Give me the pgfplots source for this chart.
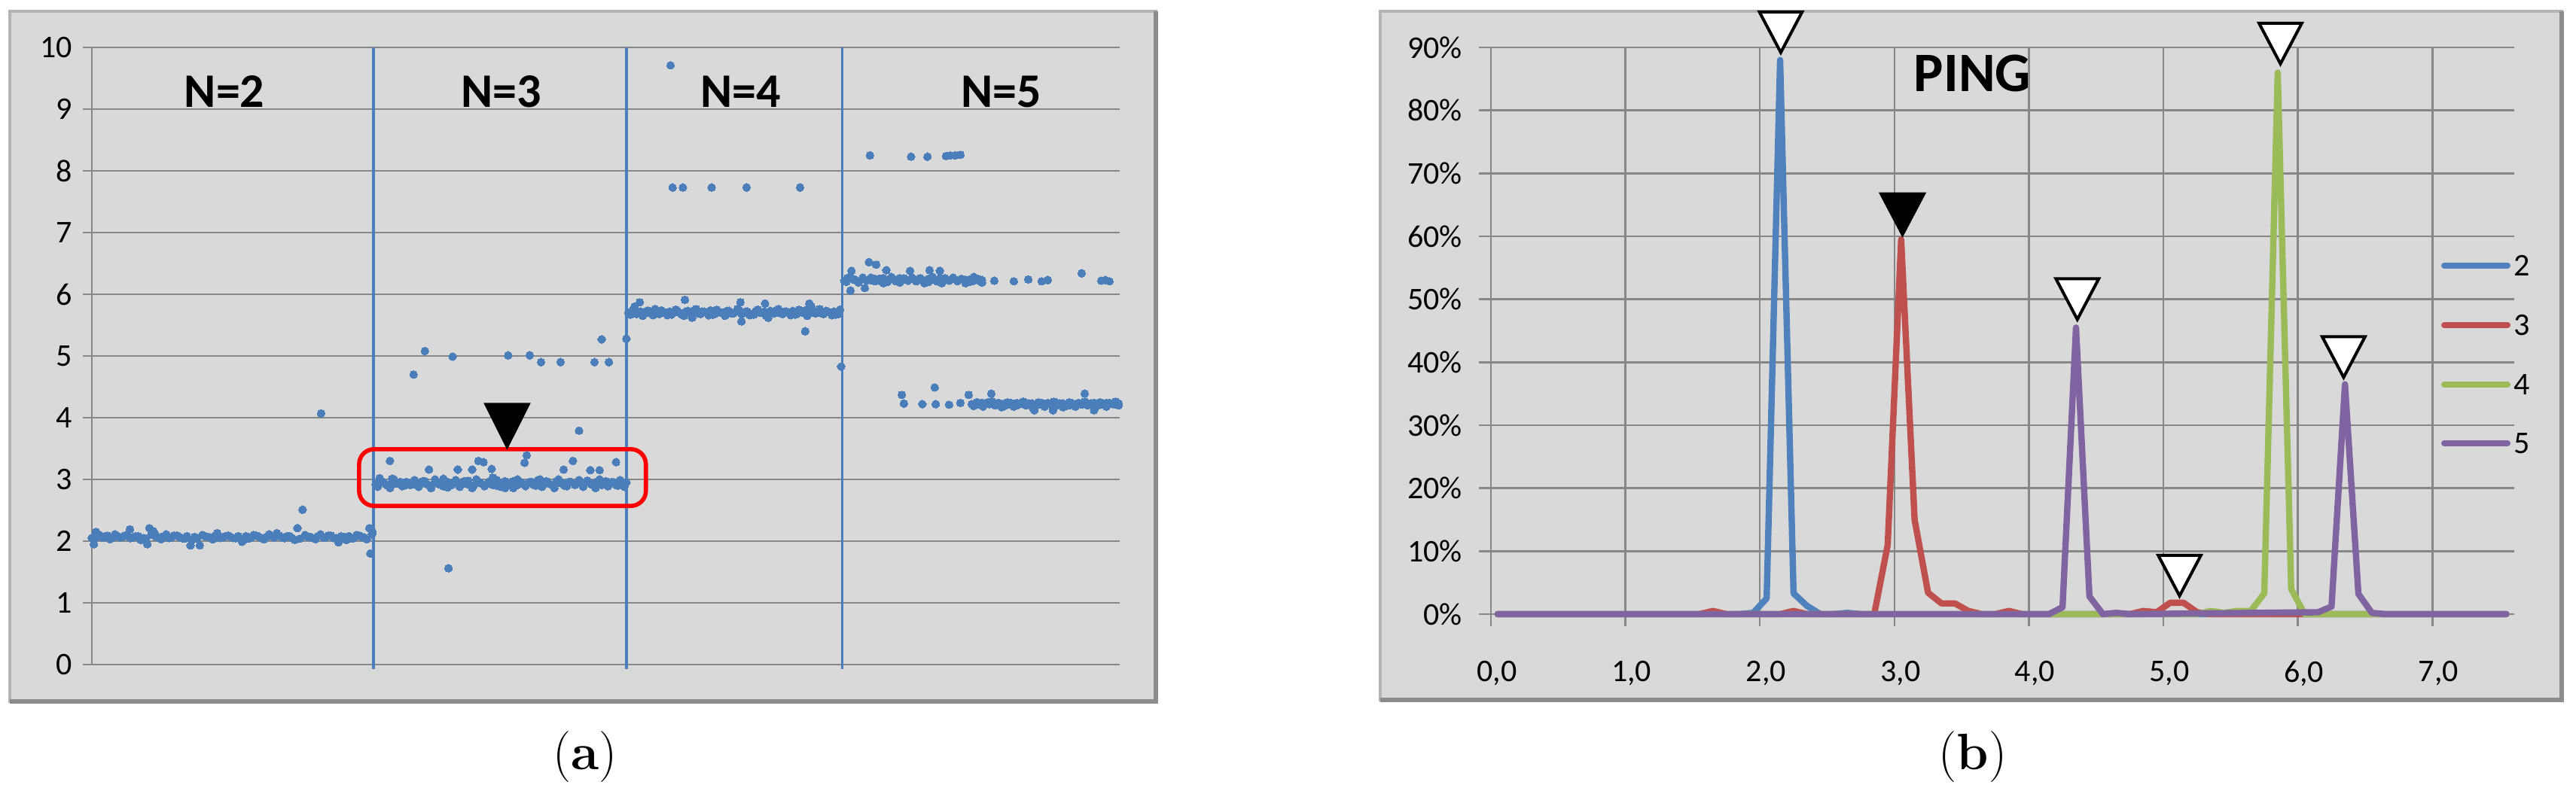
\documentclass[border=0pt]{standalone}
\usepackage{fontspec}
\newfontfamily\chartfont{Carlito}
\usepackage{pgfplots}
\pgfplotsset{compat=1.18}
\usetikzlibrary{plotmarks}

\definecolor{panelbg}{HTML}{D9D9D9}
\definecolor{gridgray}{HTML}{878787}
\definecolor{framelight}{HTML}{B4B4B4}
\definecolor{framedark}{HTML}{8C8C8C}
\definecolor{dotblue}{HTML}{4A7EBB}
\definecolor{cTwo}{HTML}{4F81BD}
\definecolor{cThree}{HTML}{C0504D}
\definecolor{cFour}{HTML}{9BBB59}
\definecolor{cFive}{HTML}{8064A2}

% down-pointing triangle with its tip on the data point
\pgfdeclareplotmark{tridown}{%
  \pgfpathmoveto{\pgfpointorigin}%
  \pgfpathlineto{\pgfpoint{-\pgfplotmarksize}{1.9\pgfplotmarksize}}%
  \pgfpathlineto{\pgfpoint{\pgfplotmarksize}{1.9\pgfplotmarksize}}%
  \pgfpathclose
  \pgfusepathqfillstroke}

\pgfplotsset{
  excel/.style={
    scale only axis, anchor=south west, clip=false,
    axis line style={draw=gridgray, line width=0.6pt, -},
    grid style={draw=gridgray, line width=0.6pt},
    tick style={draw=gridgray, line width=0.6pt},
    tick align=outside,
    tick label style={font=\chartfont\fontsize{10.5}{12}\selectfont, text=black},
    /pgf/number format/assume math mode=true,
  },
  dots/.style={only marks, mark=*, mark size=1.3pt,
    mark options={draw=dotblue, fill=dotblue, line width=0pt}},
  peak/.style={line width=2.1pt, line join=round, line cap=round, mark=none},
}
\newcommand{\nlabel}{\chartfont\bfseries\fontsize{16}{18}\selectfont}

\begin{document}
\begin{tikzpicture}
\useasboundingbox (0,0) rectangle (855.25pt,263.75pt);

%% panel backgrounds
\fill[panelbg] (3.25pt,30.75pt) rectangle (383.75pt,260pt);
\draw[framelight, line width=1.2pt] (3.25pt,30.75pt) rectangle (383.75pt,260pt);
\draw[framedark, line width=1.4pt] (3.25pt,30.75pt) -- (383.75pt,30.75pt) -- (383.75pt,260pt);
\fill[panelbg] (458.25pt,31.25pt) rectangle (850.5pt,260pt);
\draw[framelight, line width=1.2pt] (458.25pt,31.25pt) rectangle (850.5pt,260pt);
\draw[framedark, line width=1.4pt] (458.25pt,31.25pt) -- (850.5pt,31.25pt) -- (850.5pt,260pt);

%% ===== (a) measured values per N =====
\begin{axis}[excel,
  at={(30.5pt,43pt)}, width=341.25pt, height=205pt,
  xmin=0, xmax=1000, ymin=0, ymax=10,
  axis x line=none, axis y line*=left,
  xtick=\empty, ytick={0,1,...,10},
  ymajorgrids, major tick length=3pt,
]
\addplot[dotblue, line width=0.9pt, forget plot] coordinates {(274,-0.07) (274,10)};
\addplot[dotblue, line width=0.9pt, forget plot] coordinates {(520,-0.07) (520,10)};
\addplot[dotblue, line width=0.9pt, forget plot] coordinates {(730,-0.07) (730,10)};

% N=2
\addplot[dots] coordinates {
(0,2.05) (2,1.95) (4,2.15) (5,2.08) (10,2.06) (15,2.09) (20,2.05) (25,2.08)
(30,2.07) (35,2.10) (37,2.19) (40,2.06) (45,2.08) (50,2.05) (54,1.95) (56,2.21)
(60,2.16) (62,2.09) (65,2.06) (70,2.08) (75,2.05) (80,2.09) (85,2.07) (90,2.04)
(96,1.93) (100,2.07) (105,1.93) (110,2.08) (115,2.06) (120,2.09) (122,2.13) (125,2.05)
(130,2.08) (135,2.07) (140,2.05) (146,1.99) (150,2.08) (155,2.06) (160,2.09) (165,2.05)
(170,2.07) (175,2.08) (180,2.13) (185,2.06) (190,2.08) (195,2.05) (200,2.21) (205,2.51)
(210,2.07) (215,2.05) (220,2.08) (223,4.07) (225,2.06) (230,2.09) (235,2.05) (240,1.98)
(245,2.07) (250,2.08) (255,2.05) (260,2.09) (265,2.06) (270,2.21) (271,1.80) (273,2.15)
};
\addplot[dots] coordinates {
(2.5,2.04) (7.5,2.10) (12.5,2.07) (17.5,2.03) (22.5,2.11) (27.5,2.06) (32.5,2.09) (37.5,2.05) (42.5,2.08) (47.5,2.02)
(52.5,2.04) (57.5,2.10) (62.5,2.07) (67.5,2.03) (72.5,2.11) (77.5,2.06) (82.5,2.09) (87.5,2.05) (92.5,2.08) (97.5,2.02)
(102.5,2.04) (107.5,2.10) (112.5,2.07) (117.5,2.03) (122.5,2.11) (127.5,2.06) (132.5,2.09) (137.5,2.05) (142.5,2.08) (147.5,2.02)
(152.5,2.04) (157.5,2.10) (162.5,2.07) (167.5,2.03) (172.5,2.11) (177.5,2.06) (182.5,2.09) (187.5,2.05) (192.5,2.08) (197.5,2.02)
(202.5,2.04) (207.5,2.10) (212.5,2.07) (217.5,2.03) (222.5,2.11) (227.5,2.06) (232.5,2.09) (237.5,2.05) (242.5,2.08) (247.5,2.02)
(252.5,2.04) (257.5,2.10) (262.5,2.07) (267.5,2.03) (272.5,2.11)
};
% N=3
\addplot[dots] coordinates {
(276,2.92) (280,3.02) (284,2.95) (288,2.90) (290,3.30) (292,3.01) (296,2.93) (300,2.96)
(304,2.90) (308,2.93) (312,2.95) (313,4.70) (316,2.91) (320,2.94) (324,5.08) (324,2.97)
(328,3.16) (330,2.90) (334,2.95) (338,2.92) (342,3.01) (346,2.87) (347,1.56) (350,2.93)
(351,4.99) (354,2.96) (356,3.16) (358,2.90) (362,2.94) (366,2.98) (370,3.16) (372,2.91)
(376,3.30) (378,2.95) (381,3.28) (384,2.92) (389,3.17) (390,3.03) (394,2.90) (398,2.94)
(402,2.86) (405,5.01) (406,2.93) (410,2.97) (414,2.91) (418,2.95) (421,3.27) (423,3.39)
(424,2.93) (426,5.01) (428,2.96) (432,2.90) (436,3.00) (437,4.90) (440,2.93) (444,2.95)
(448,2.91) (452,2.97) (456,4.90) (456,2.94) (459,3.16) (460,2.90) (464,2.96) (468,3.30)
(470,2.92) (474,3.79) (474,2.95) (478,2.91) (482,2.98) (485,3.15) (486,2.93) (489,4.90)
(490,2.95) (494,3.15) (496,5.27) (496,2.91) (500,2.97) (503,4.90) (504,2.93) (508,2.95)
(510,3.28) (512,2.90) (516,2.96) (518,2.92) (520,5.28) (520,2.95)
};
\addplot[dots] coordinates {
(278,2.88) (282,2.97) (286,2.92) (290,2.86) (294,3.00) (298,2.94) (302,2.89) (306,2.96) (310,2.91) (314,2.99)
(318,2.88) (322,2.97) (326,2.92) (330,2.86) (334,3.00) (338,2.94) (342,2.89) (346,2.96) (350,2.91) (354,2.99)
(358,2.88) (362,2.97) (366,2.92) (370,2.86) (374,3.00) (378,2.94) (382,2.89) (386,2.96) (390,2.91) (394,2.99)
(398,2.88) (402,2.97) (406,2.92) (410,2.86) (414,3.00) (418,2.94) (422,2.89) (426,2.96) (430,2.91) (434,2.99)
(438,2.88) (442,2.97) (446,2.92) (450,2.86) (454,3.00) (458,2.94) (462,2.89) (466,2.96) (470,2.91) (474,2.99)
(478,2.88) (482,2.97) (486,2.92) (490,2.86) (494,3.00) (498,2.94) (502,2.89) (506,2.96) (510,2.91) (514,2.99)
(518,2.88)
};
% N=4
\addplot[dots] coordinates {
(522,5.70) (526,5.74) (528,5.80) (530,5.68) (533,5.87) (534,5.72) (538,5.69) (542,5.73)
(546,5.66) (550,5.71) (554,5.74) (558,5.69) (562,5.72) (563,9.71) (565,7.73) (566,5.70)
(570,5.73) (574,5.67) (575,7.73) (577,5.91) (578,5.72) (582,5.70) (584,5.62) (586,5.74)
(590,5.69) (594,5.72) (598,5.70) (602,5.74) (603,7.73) (606,5.68) (610,5.72) (614,5.70)
(618,5.73) (622,5.69) (626,5.71) (630,5.74) (631,5.87) (632,5.56) (634,5.70) (637,7.73)
(638,5.72) (642,5.68) (646,5.73) (650,5.70) (654,5.72) (655,5.85) (658,5.62) (662,5.71)
(666,5.74) (670,5.69) (674,5.72) (678,5.70) (682,5.73) (686,5.68) (689,7.73) (690,5.71)
(694,5.40) (694,5.74) (698,5.85) (700,5.80) (702,5.70) (706,5.72) (710,5.69) (714,5.73)
(718,5.70) (722,5.72) (726,5.68) (729,4.83)
};
\addplot[dots] coordinates {
(524,5.67) (528,5.75) (532,5.70) (536,5.65) (540,5.73) (544,5.69) (548,5.76) (552,5.68) (556,5.72) (560,5.66)
(564,5.67) (568,5.75) (572,5.70) (576,5.65) (580,5.73) (584,5.69) (588,5.76) (592,5.68) (596,5.72) (600,5.66)
(604,5.67) (608,5.75) (612,5.70) (616,5.65) (620,5.73) (624,5.69) (628,5.76) (632,5.68) (636,5.72) (640,5.66)
(644,5.67) (648,5.75) (652,5.70) (656,5.65) (660,5.73) (664,5.69) (668,5.76) (672,5.68) (676,5.72) (680,5.66)
(684,5.67) (688,5.75) (692,5.70) (696,5.65) (700,5.73) (704,5.69) (708,5.76) (712,5.68) (716,5.72) (720,5.66)
(724,5.67) (728,5.75)
};
% N=5, upper group
\addplot[dots] coordinates {
(732,6.22) (735,6.26) (738,6.06) (739,6.38) (742,6.24) (746,6.21) (750,6.27) (752,6.10)
(756,6.52) (757,8.25) (758,6.23) (762,6.25) (763,6.48) (766,6.22) (770,6.26) (773,6.39)
(774,6.23) (778,6.25) (782,6.21) (786,6.26) (790,6.24) (794,6.22) (796,6.38) (797,8.23)
(798,6.25) (802,6.23) (806,6.26) (810,6.22) (813,8.23) (814,6.25) (815,6.39) (818,6.24)
(822,6.21) (825,6.38) (826,6.26) (827,6.18) (830,6.23) (831,8.24) (835,8.25) (838,6.25)
(840,8.25) (842,6.22) (845,8.26) (846,6.25) (850,6.23) (854,6.24) (858,6.22) (862,6.25)
(866,6.23) (878,6.22) (897,6.21) (911,6.24) (924,6.21) (930,6.23) (963,6.34) (982,6.22)
(986,6.23) (990,6.21)
};
\addplot[dots] coordinates {
(734,6.20) (738,6.28) (742,6.23) (746,6.19) (750,6.26) (754,6.22) (758,6.27) (762,6.21) (766,6.25) (770,6.18)
(774,6.20) (778,6.28) (782,6.23) (786,6.19) (790,6.26) (794,6.22) (798,6.27) (802,6.21) (806,6.25) (810,6.18)
(814,6.20) (818,6.28) (822,6.23) (826,6.19) (830,6.26) (834,6.22) (838,6.27) (842,6.21) (846,6.25) (850,6.18)
(854,6.20) (858,6.28) (862,6.23) (866,6.19)
};
% N=5, lower group
\addplot[dots] coordinates {
(788,4.37) (790,4.23) (808,4.22) (820,4.49) (821,4.22) (834,4.21) (845,4.24) (853,4.37)
(856,4.22) (860,4.23) (863,4.21) (866,4.24) (869,4.22) (872,4.25) (875,4.39) (876,4.22)
(879,4.20) (882,4.24) (885,4.22) (888,4.23) (891,4.21) (894,4.24) (897,4.22) (900,4.20)
(903,4.23) (906,4.22) (909,4.24) (912,4.21) (915,4.23) (917,4.12) (918,4.22) (921,4.21)
(924,4.24) (927,4.22) (930,4.23) (933,4.21) (935,4.12) (936,4.22) (939,4.24) (942,4.21)
(945,4.23) (948,4.22) (951,4.20) (954,4.23) (957,4.22) (960,4.24) (963,4.21) (966,4.39)
(966,4.22) (969,4.23) (972,4.21) (975,4.12) (975,4.24) (978,4.22) (981,4.23) (984,4.21)
(987,4.24) (990,4.22) (993,4.23) (996,4.21) (999,4.23)
};
\addplot[dots] coordinates {
(858,4.19) (861,4.25) (864,4.21) (867,4.18) (870,4.24) (873,4.22) (876,4.26) (879,4.20) (882,4.23) (885,4.17)
(888,4.19) (891,4.25) (894,4.21) (897,4.18) (900,4.24) (903,4.22) (906,4.26) (909,4.20) (912,4.23) (915,4.17)
(918,4.19) (921,4.25) (924,4.21) (927,4.18) (930,4.24) (933,4.22) (936,4.26) (939,4.20) (942,4.23) (945,4.17)
(948,4.19) (951,4.25) (954,4.21) (957,4.18) (960,4.24) (963,4.22) (966,4.26) (969,4.20) (972,4.23) (975,4.17)
(978,4.19) (981,4.25) (984,4.21) (987,4.18) (990,4.24) (993,4.22) (996,4.26) (999,4.20)
};

\draw[red, line width=1.4pt, rounded corners=5pt]
  (axis cs:260,2.57) rectangle (axis cs:539,3.49);
\addplot[only marks, mark=tridown, mark size=7.5pt,
  mark options={fill=black, draw=black, line width=0.4pt, yscale=1.05}]
  coordinates {(404,3.50)};

\node[font=\nlabel] at (axis cs:129,9.28) {N=2};
\node[font=\nlabel] at (axis cs:398.5,9.28) {N=3};
\node[font=\nlabel] at (axis cs:631,9.28) {N=4};
\node[font=\nlabel] at (axis cs:885,9.28) {N=5};
\end{axis}

%% ===== (b) PING histogram =====
\begin{axis}[excel,
  at={(495pt,59.75pt)}, width=339.8pt, height=188.25pt,
  xmin=0, xmax=7.61, ymin=0, ymax=90,
  axis x line*=bottom, axis y line*=left,
  xtick={0,1,...,7}, ytick={0,10,...,90},
  xmajorgrids, ymajorgrids, major tick length=4pt,
  xticklabel={\pgfmathprintnumber[fixed,fixed zerofill,precision=1,use comma]{\tick}},
  yticklabel={\pgfmathprintnumber{\tick}\%},
  xticklabel style={xshift=2pt, yshift=-8pt},
  yticklabel style={xshift=-2pt},
]
\addplot[peak, cTwo] coordinates {
(0.05,0) (1.85,0) (1.95,0.2) (2.05,2.5) (2.15,88) (2.25,3.3) (2.35,1.3) (2.45,0)
(2.55,0) (2.65,0.2) (2.75,0) (7.55,0)};
\addplot[peak, cThree] coordinates {
(0.05,0) (1.55,0) (1.65,0.5) (1.75,0) (2.15,0) (2.25,0.5) (2.35,0) (2.85,0)
(2.95,11) (3.05,59.5) (3.15,15) (3.25,3.4) (3.35,1.7) (3.45,1.7) (3.55,0.5) (3.65,0)
(3.75,0) (3.85,0.5) (3.95,0) (4.75,0) (4.85,0.5) (4.95,0.3) (5.05,1.8) (5.15,1.8)
(5.25,0.3) (5.35,0) (7.55,0)};
\addplot[peak, cFour] coordinates {
(0.05,0) (5.25,0) (5.35,0.5) (5.45,0.2) (5.55,0.5) (5.65,0.5) (5.75,3.3) (5.85,86)
(5.95,4) (6.05,0) (7.55,0)};
\addplot[peak, cFive] coordinates {
(0.05,0) (4.15,0) (4.25,1.1) (4.35,45.5) (4.45,2.8) (4.55,0) (4.65,0.2) (4.75,0)
(6.15,0.3) (6.25,1.2) (6.35,36.5) (6.45,3.2) (6.55,0.2) (6.65,0) (7.55,0)};

\addplot[only marks, mark=tridown, mark size=7.1pt,
  mark options={fill=white, draw=black, line width=1pt}]
  coordinates {(2.155,89.2) (4.36,46.8) (5.12,2.9) (5.87,87.4) (6.34,37.6)};
\addplot[only marks, mark=tridown, mark size=7.1pt,
  mark options={fill=black, draw=black, line width=1pt}]
  coordinates {(3.06,60.3)};

\node[font=\chartfont\bfseries\fontsize{18.5}{20}\selectfont] at (axis cs:3.58,85.9) {PING};
\end{axis}

%% legend of (b)
\foreach \ly/\lc/\lt in {175.5/cTwo/2, 155.75/cThree/3, 136/cFour/4, 116.5/cFive/5} {
  \draw[\lc, line width=2pt, line cap=round] (811.5pt,\ly pt) -- (832.5pt,\ly pt);
  \node[anchor=west, inner sep=0pt, font=\chartfont\fontsize{10.5}{12}\selectfont]
    at (834.5pt,\ly pt) {\lt};
}

%% captions
\node[font=\fontsize{17}{20}\selectfont] at (194.25pt,12.25pt) {(\textbf{a})};
\node[font=\fontsize{17}{20}\selectfont] at (655pt,12.25pt) {(\textbf{b})};
\end{tikzpicture}
\end{document}
